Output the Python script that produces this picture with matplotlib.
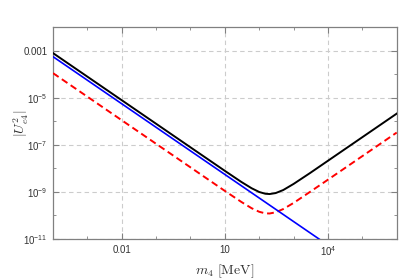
import matplotlib
matplotlib.use("Agg")
import matplotlib.pyplot as plt
from matplotlib.ticker import FixedLocator, FixedFormatter, NullFormatter

plt.rcParams["mathtext.fontset"] = "custom"
plt.rcParams["mathtext.rm"] = "Liberation Sans"
plt.rcParams["mathtext.it"] = "Liberation Sans:italic"
plt.rcParams["font.family"] = "Liberation Sans"

# values (m4 in MeV, |U_e4^2|)
m_black = [1e-4, 1e-3, 1e-2, 0.1, 1, 10, 30, 60, 100, 150, 200, 300, 500, 1000, 3000, 1e4, 1e5, 1e6]
u_black = [7.8e-4, 7.8e-5, 7.8e-6, 7.8e-7, 7.8e-8, 7.82e-9, 2.66e-9, 1.43e-9, 9.9e-10, 8.35e-10,
           8.1e-10, 8.9e-10, 1.2e-9, 2.18e-9, 6.3e-9, 2.1e-8, 2.1e-7, 2.1e-6]

m_red = [1e-4, 1e-3, 1e-2, 0.1, 1, 10, 30, 60, 100, 150, 200, 300, 500, 1000, 3000, 1e4, 1e5, 1e6]
u_red = [1.1e-4, 1.1e-5, 1.1e-6, 1.1e-7, 1.1e-8, 1.1e-9, 3.77e-10, 2.03e-10, 1.43e-10, 1.23e-10,
         1.21e-10, 1.36e-10, 1.87e-10, 3.4e-10, 1.0e-9, 3.3e-9, 3.3e-8, 3.3e-7]

m_blue = [1e-4, 1e4]
u_blue = [5.5e-4, 5.5e-12]

x_major = [1e-2, 1e1, 1e4]
x_labels = ["0.01", "10", "$10^4$"]
x_minor = [1e-3, 1e-1, 1, 1e2, 1e3, 1e5]
y_major = [1e-11, 1e-9, 1e-7, 1e-5, 1e-3]
y_labels = ["$10^{-11}$", "$10^{-9}$", "$10^{-7}$", "$10^{-5}$", "0.001"]
y_minor = [1e-10, 1e-8, 1e-6, 1e-4]

fig = plt.figure(figsize=(4.19, 2.80), dpi=100)
ax = fig.add_axes([0.1265, 0.1464, 0.8203, 0.7572])

ax.plot(m_black, u_black, color="black", lw=1.4, zorder=3)
ax.plot(m_blue, u_blue, color="#0000ff", lw=1.2, zorder=4)
ax.plot(m_red, u_red, color="#ff0000", lw=1.4, ls=(0, (3.5, 2)), zorder=3)

ax.set_xscale("log")
ax.set_yscale("log")
ax.set_xlim(1e-4, 1e6)
ax.set_ylim(1e-11, 1e-2)

ax.xaxis.set_major_locator(FixedLocator(x_major))
ax.xaxis.set_major_formatter(FixedFormatter(x_labels))
ax.xaxis.set_minor_locator(FixedLocator(x_minor))
ax.xaxis.set_minor_formatter(NullFormatter())
ax.yaxis.set_major_locator(FixedLocator(y_major))
ax.yaxis.set_major_formatter(FixedFormatter(y_labels))
ax.yaxis.set_minor_locator(FixedLocator(y_minor))
ax.yaxis.set_minor_formatter(NullFormatter())

ax.tick_params(which="both", direction="in", top=True, right=True, color="#808080",
               labelsize=7, labelcolor="#333333")
ax.tick_params(which="major", length=4, width=0.8, pad=4)
ax.tick_params(which="minor", length=2.5, width=0.6)
for s in ax.spines.values():
    s.set_color("#808080")
    s.set_linewidth(0.9)

ax.grid(True, which="major", color="#cccccc", ls=(0, (4, 3)), lw=0.8)
ax.set_axisbelow(True)

ax.set_xlabel(r"$m_4\ [\mathrm{MeV}]$", fontsize=10, math_fontfamily="cm", color="#333333")
ax.set_ylabel(r"$|U_{e4}^2|$", fontsize=10, math_fontfamily="cm", color="#333333")
ax.xaxis.set_label_coords(0.5, -0.113)
ax.yaxis.set_label_coords(-0.065, 0.545)

fig.savefig("out.png", dpi=100)
